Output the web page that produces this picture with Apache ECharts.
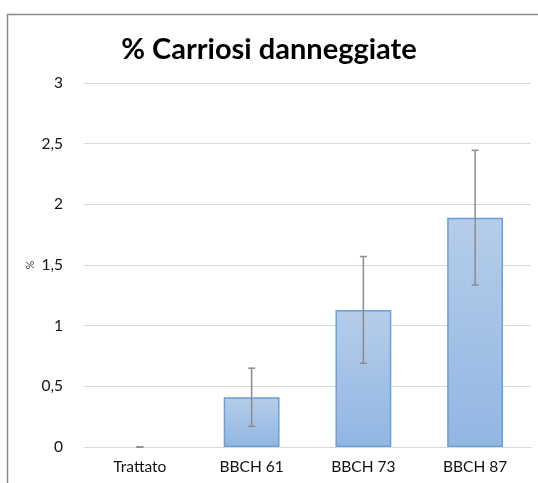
<!DOCTYPE html>
<html>
<head>
<meta charset="utf-8">
<script src="https://cdn.jsdelivr.net/npm/echarts@6/dist/echarts.min.js"></script>
<style>
  html, body { margin: 0; padding: 0; background: #fff; }
  #chart { width: 538px; height: 483px; }
</style>
</head>
<body>
<div id="chart"></div>
<script>
const categories = ['Trattato', 'BBCH 61', 'BBCH 73', 'BBCH 87'];
const values = [0, 0.41, 1.13, 1.89];
const errors = [0, 0.24, 0.44, 0.555];
const yTicks = [0, 0.5, 1, 1.5, 2, 2.5, 3];

const chart = echarts.init(document.getElementById('chart'));

const errorData = values.map((v, i) => [i, v - errors[i], v + errors[i]]);
const barData = values.map(v => v === 0 ? { value: v, itemStyle: { borderWidth: 0 } } : v);

const option = {
    animation: false,
    textStyle: { fontFamily: 'Lato' },
    title: {
        text: '% Carriosi danneggiate',
        left: 'center',
        top: 30,
        textStyle: { fontSize: 29, fontWeight: 'bold', color: '#000', fontFamily: 'Lato' }
    },
    graphic: [{
        type: 'rect',
        shape: { x: 7.5, y: 14.5, width: 700, height: 700 },
        style: { fill: 'none', stroke: '#8a8a8a', lineWidth: 1.5 }
    }],
    grid: { left: 84, right: 7, top: 83, bottom: 36 },
    xAxis: {
        type: 'category',
        data: categories,
        axisTick: { show: false },
        axisLine: { lineStyle: { color: '#d9d9d9' } },
        axisLabel: { color: '#111', fontSize: 15.5, margin: 12 }
    },
    yAxis: {
        type: 'value',
        min: 0,
        max: 3,
        interval: 0.5,
        name: '%',
        nameLocation: 'middle',
        nameGap: 48,
        nameMoveOverlap: false,
        nameRotate: 90,
        nameTextStyle: { fontSize: 11, color: '#444' },
        axisLine: { show: false },
        axisTick: { show: false },
        splitLine: { lineStyle: { color: '#d9d9d9' } },
        axisLabel: {
            color: '#111',
            fontSize: 15.5,
            margin: 21,
            formatter: v => yTicks.includes(v) ? String(v).replace('.', ',') : ''
        }
    },
    series: [
        {
            type: 'bar',
            data: barData,
            barWidth: '50%',
            itemStyle: {
                color: new echarts.graphic.LinearGradient(0, 0, 0, 1, [
                    { offset: 0, color: '#b5cdea' },
                    { offset: 1, color: '#92b6e2' }
                ]),
                borderColor: '#6a9fd8',
                borderWidth: 1.5
            }
        },
        {
            type: 'custom',
            data: errorData,
            z: 10,
            renderItem: function (params, api) {
                const x = api.value(0);
                const lo = api.coord([x, api.value(1)]);
                const hi = api.coord([x, api.value(2)]);
                const cap = 3.5;
                const style = { stroke: '#8c8c8c', lineWidth: 1.5 };
                return {
                    type: 'group',
                    children: [
                        { type: 'line', shape: { x1: lo[0], y1: lo[1], x2: hi[0], y2: hi[1] }, style: style },
                        { type: 'line', shape: { x1: lo[0] - cap, y1: lo[1], x2: lo[0] + cap, y2: lo[1] }, style: style },
                        { type: 'line', shape: { x1: hi[0] - cap, y1: hi[1], x2: hi[0] + cap, y2: hi[1] }, style: style }
                    ]
                };
            }
        }
    ]
};

chart.setOption(option);
window.addEventListener('resize', () => {
    chart.resize();
});
</script>
</body>
</html>
